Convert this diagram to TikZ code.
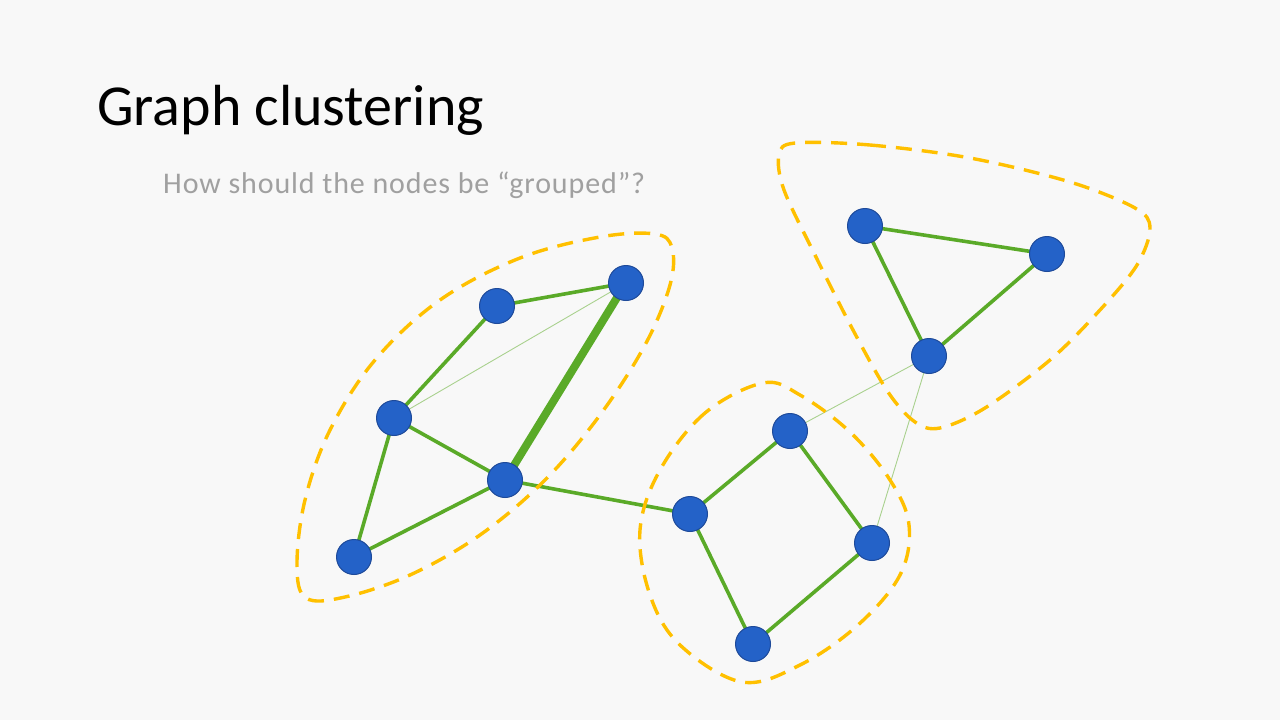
\documentclass[tikz,border=0pt]{standalone}
\usepackage{fontspec}
\setmainfont{Carlito}
\begin{document}
\begin{tikzpicture}[x=1pt,y=-1pt,
  vtx/.style={circle,fill=nodeblue,draw=nodeedge,line width=1pt,minimum size=35pt,inner sep=0pt},
  edg/.style={draw=edgegreen,line width=3.6pt},
  thickedg/.style={draw=edgegreen,line width=8pt},
  thinedg/.style={draw=thingreen,line width=0.9pt},
  grp/.style={draw=groupgold,line width=3.4pt,dash pattern=on 16pt off 10pt,line cap=butt}]
\definecolor{bg}{HTML}{F8F8F8}
\definecolor{nodeblue}{HTML}{2462C8}
\definecolor{nodeedge}{HTML}{1E4A9A}
\definecolor{edgegreen}{HTML}{5AAA28}
\definecolor{thingreen}{HTML}{A9D18E}
\definecolor{groupgold}{HTML}{FFC000}
\definecolor{subgray}{HTML}{A0A0A0}
\fill[bg] (0,0) rectangle (1280,720);
\useasboundingbox (0,0) rectangle (1280,720);

% title
\node[anchor=base west,inner sep=0pt,font=\fontsize{58}{64}\selectfont] (title) at (97,125) {Graph clustering};
\node[anchor=base west,inner sep=0pt,text=subgray,font=\fontsize{30}{34}\selectfont\addfontfeatures{LetterSpace=3}] (sub) at (163,193) {How should the nodes be “grouped”?};

% node positions
\coordinate (pA) at (497,306);
\coordinate (pB) at (626,283);
\coordinate (pC) at (394,418);
\coordinate (pD) at (505,480);
\coordinate (pE) at (354,557);
\coordinate (pF) at (690,514);
\coordinate (pG) at (790,431);
\coordinate (pH) at (872,543);
\coordinate (pI) at (753,644);
\coordinate (pJ) at (865,226);
\coordinate (pK) at (1047,254);
\coordinate (pL) at (929,356);

% edges
\path[edg] (pA) -- (pB);
\path[thickedg] (pB) -- (pD);
\path[edg] (pA) -- (pC);
\path[thinedg] (pC) -- (pB);
\path[edg] (pC) -- (pD);
\path[edg] (pC) -- (pE);
\path[edg] (pE) -- (pD);
\path[edg] (pD) -- (pF);
\path[edg] (pF) -- (pG);
\path[edg] (pG) -- (pH);
\path[edg] (pF) -- (pI);
\path[edg] (pI) -- (pH);
\path[thinedg] (pG) -- (pL);
\path[thinedg] (pH) -- (pL);
\path[edg] (pJ) -- (pK);
\path[edg] (pJ) -- (pL);
\path[edg] (pK) -- (pL);

% groups
\draw[grp] plot[smooth cycle,tension=0.6] coordinates {
  (306,598) (297,565) (305,500) (330,430) (375,360) (440,300) (520,258) (600,237) (655,234) (672,248) (670,285) (645,345) (600,415) (545,480) (480,535) (410,575) (345,597)};
\draw[grp] plot[smooth cycle,tension=0.6] coordinates {
  (763,383) (705,413) (660,470) (640,530) (650,595) (680,645) (742,682) (800,665) (858,625) (900,575) (909,525) (890,480) (850,432) (800,395)};
\draw[grp] plot[smooth cycle,tension=0.55] coordinates {
  (795,143) (870,145) (970,158) (1070,182) (1135,208) (1150,228) (1137,265) (1100,310) (1050,360) (985,408) (940,428) (915,422) (888,392) (853,330) (815,255) (784,190) (779,155)};

% nodes
\node[vtx] (A) at (pA) {};
\node[vtx] (B) at (pB) {};
\node[vtx] (C) at (pC) {};
\node[vtx] (D) at (pD) {};
\node[vtx] (E) at (pE) {};
\node[vtx] (F) at (pF) {};
\node[vtx] (G) at (pG) {};
\node[vtx] (H) at (pH) {};
\node[vtx] (I) at (pI) {};
\node[vtx] (J) at (pJ) {};
\node[vtx] (K) at (pK) {};
\node[vtx] (L) at (pL) {};
\end{tikzpicture}
\end{document}
